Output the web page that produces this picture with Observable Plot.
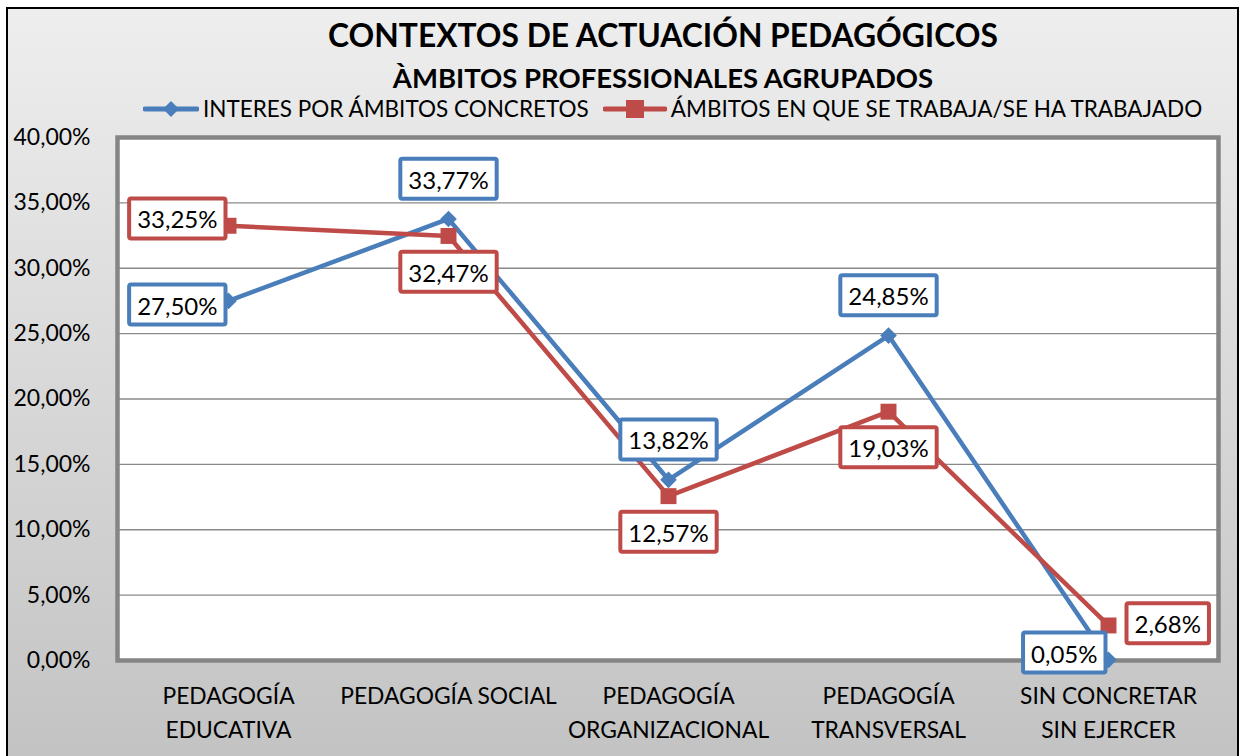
<!DOCTYPE html>
<html>
<head>
<meta charset="utf-8">
<script src="https://cdn.jsdelivr.net/npm/d3@7"></script>
<script src="https://cdn.jsdelivr.net/npm/@observablehq/plot@0.6"></script>
<style>
  html, body { margin: 0; padding: 0; }
  body { width: 1242px; height: 756px; overflow: hidden; position: relative; font-family: Lato, "Open Sans", sans-serif; background: #fff; }
  #box { position: absolute; left: 6px; top: 7px; width: 1233px; height: 770px; box-sizing: border-box; border: 2px solid #000; background: linear-gradient(#eeeeee, #c2c2c2); }
  #title { position: absolute; left: 0; width: 1326px; top: 16px; text-align: center; font-weight: 700; font-size: 31.8px; color: #000; white-space: nowrap; }
  #subtitle { position: absolute; left: 0; width: 1326px; top: 61px; text-align: center; font-weight: 700; font-size: 27.5px; color: #000; white-space: nowrap; }
  #legend { position: absolute; left: 143px; top: 95px; display: flex; align-items: center; font-size: 22.5px; color: #000; white-space: nowrap; }
  #legend .item { display: flex; align-items: center; }
  #legend svg { display: block; }
  #chart { position: absolute; left: 0; top: 120px; }
  #chart svg { background: transparent; overflow: visible; }
</style>
</head>
<body>
<div id="box"></div>
<div id="title">CONTEXTOS DE ACTUACIÓN PEDAGÓGICOS</div>
<div id="subtitle">ÀMBITOS PROFESSIONALES AGRUPADOS</div>
<div id="legend"></div>
<div id="chart"></div>
<script>
// ---- data ----
const categories = ["PEDAGOGÍA\nEDUCATIVA", "PEDAGOGÍA SOCIAL", "PEDAGOGÍA\nORGANIZACIONAL", "PEDAGOGÍA\nTRANSVERSAL", "SIN CONCRETAR\nSIN EJERCER"];
const seriesNames = ["INTERES POR ÁMBITOS CONCRETOS", "ÁMBITOS EN QUE SE TRABAJA/SE HA TRABAJADO"];
const interes = [27.50, 33.77, 13.82, 24.85, 0.05];
const trabajo = [33.25, 32.47, 12.57, 19.03, 2.68];
const yTicks = [0, 5, 10, 15, 20, 25, 30, 35, 40];
// label placement (side of the point) per series
const interesSides = ["leftDown", "above", "above", "above", "leftUp"];
const trabajoSides = ["leftUp", "below", "below", "below", "right"];

const colors = ["#4A7EBB", "#BE4B48"];
const fmt = v => v.toFixed(2).replace(".", ",") + "%";

const rows = [];
[interes, trabajo].forEach((vals, s) => {
  const sides = s === 0 ? interesSides : trabajoSides;
  vals.forEach((v, i) => rows.push({cat: categories[i], value: v, series: seriesNames[s], s, side: sides[i]}));
});

// side -> offsets (style)
const sideStyle = {
  above:    {dx: 0,   dy: -38, textAnchor: "middle"},
  below:    {dx: 0,   dy: 38,  textAnchor: "middle"},
  leftUp:   {dx: -11, dy: -5,  textAnchor: "end"},
  leftDown: {dx: -11, dy: 6,   textAnchor: "end"},
  right:    {dx: 26,  dy: 0,   textAnchor: "start"}
};

// ---- legend ----
const legend = document.getElementById("legend");
seriesNames.forEach((name, s) => {
  const item = document.createElement("div");
  item.className = "item";
  if (s === 1) item.style.marginLeft = "14px";
  const w = s === 0 ? 56 : 64;
  const sym = s === 0
    ? `<polygon points="${w/2},4 ${w/2+8},12 ${w/2},20 ${w/2-8},12" fill="${colors[0]}"/>`
    : `<rect x="${w/2-9}" y="3" width="18" height="18" fill="${colors[1]}"/>`;
  item.innerHTML = `<svg width="${w}" height="24"><line x1="2" x2="${w-2}" y1="12" y2="12" stroke="${colors[s]}" stroke-width="5" stroke-linecap="round"/>${sym}</svg><span style="margin-left:4px">${name}</span>`;
  legend.appendChild(item);
});

// ---- chart ----
const labelMarks = rows.map(d => {
  const st = sideStyle[d.side];
  return Plot.text([d], {
    x: "cat", y: "value", text: dd => fmt(dd.value),
    dx: st.dx, dy: st.dy, textAnchor: st.textAnchor,
    fontSize: 24, fill: "#000", ariaDescription: "label-" + d.s
  });
});

const plot = Plot.plot({
  width: 1242,
  height: 636,
  marginLeft: 117,
  marginRight: 24,
  marginTop: 17,
  marginBottom: 96,
  style: {fontFamily: "Lato, 'Open Sans', sans-serif", background: "transparent", overflow: "visible"},
  x: {type: "point", domain: categories, padding: 0.5, label: null},
  y: {domain: [0, 40], label: null},
  marks: [
    Plot.frame({fill: "#fff", stroke: "none"}),
    Plot.gridY(yTicks, {stroke: "#8a8a8a", strokeOpacity: 1, strokeWidth: 1.3}),
    Plot.frame({stroke: "#858585", strokeWidth: 4.5}),
    Plot.axisY({ticks: yTicks, tickFormat: fmt, tickSize: 0, tickPadding: 27, fontSize: 23, fill: "#000", label: null}),
    Plot.axisX({tickSize: 0, tickPadding: 19, fontSize: 22.8, fill: "#000", lineHeight: 1.5, lineAnchor: "top", label: null}),
    Plot.line(rows.filter(d => d.s === 0), {x: "cat", y: "value", stroke: colors[0], strokeWidth: 4.5, strokeLinejoin: "round"}),
    Plot.line(rows.filter(d => d.s === 1), {x: "cat", y: "value", stroke: colors[1], strokeWidth: 4.5, strokeLinejoin: "round"}),
    Plot.dot(rows.filter(d => d.s === 0), {x: "cat", y: "value", symbol: "diamond2", r: 7.5, fill: colors[0], stroke: "none"}),
    Plot.dot(rows.filter(d => d.s === 1), {x: "cat", y: "value", symbol: "square", r: 9, fill: colors[1], stroke: "none"}),
    ...labelMarks
  ]
});
document.getElementById("chart").appendChild(plot);

// draw a box behind each data label
const ns = "http://www.w3.org/2000/svg";
[0, 1].forEach(s => {
  plot.querySelectorAll(`[aria-description="label-${s}"] text`).forEach(t => {
    const b = t.getBBox();
    const r = document.createElementNS(ns, "rect");
    const tr = t.getAttribute("transform");
    if (tr) r.setAttribute("transform", tr);
    r.setAttribute("x", b.x - 8);
    r.setAttribute("y", b.y - 6);
    r.setAttribute("width", b.width + 16);
    r.setAttribute("height", b.height + 11);
    r.setAttribute("rx", 2);
    r.setAttribute("fill", "#fff");
    r.setAttribute("stroke", colors[s]);
    r.setAttribute("stroke-width", 4);
    t.parentNode.insertBefore(r, t);
  });
});
</script>
</body>
</html>
